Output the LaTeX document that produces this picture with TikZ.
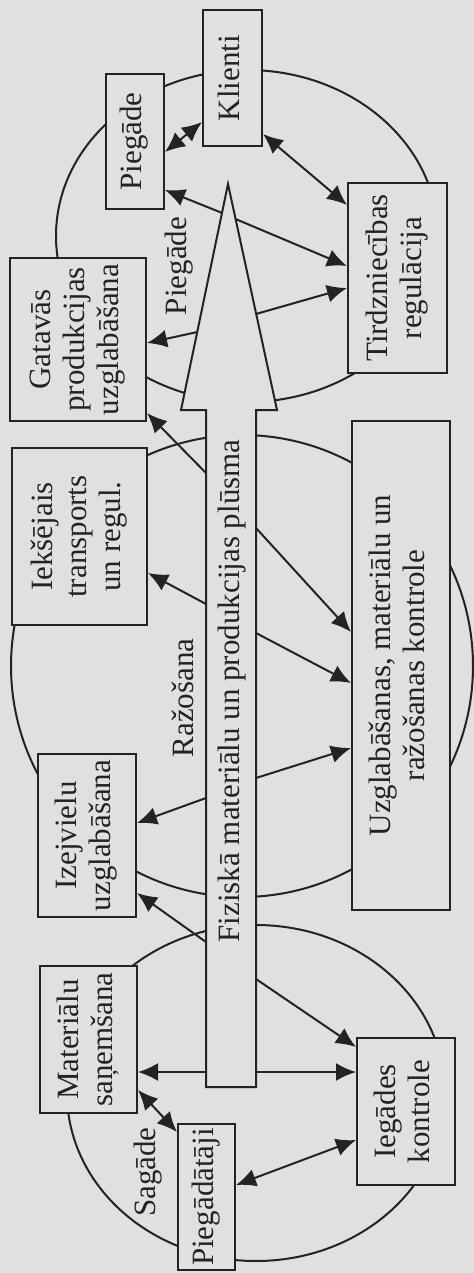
\documentclass[tikz,border=0pt]{standalone}
\usepackage{fontspec}
\setmainfont{Liberation Serif}
\usepackage{graphicx}
\usetikzlibrary{arrows.meta,calc}
\definecolor{paper}{RGB}{224,224,223}
\definecolor{ink}{RGB}{35,35,35}
\newcommand{\vtxt}[1]{\rotatebox{90}{\begin{tabular}{@{}c@{}}#1\end{tabular}}}

\begin{document}
\begin{tikzpicture}[x=0.5pt,y=-0.5pt,line width=1pt,ink]

\tikzset{
	box/.style={draw,fill=paper,inner sep=0pt,font=\fontsize{15.5}{17}\selectfont},
	lbl/.style={rotate=90,inner sep=0pt,font=\fontsize{15.5}{17}\selectfont},
	oneway/.style={-{Latex[length=10pt,width=9pt]}},
	twoway/.style={{Latex[length=10pt,width=9pt]}-{Latex[length=10pt,width=9pt]}},
}
        \fill[paper] (0,0) rectangle (474,1273);
        \useasboundingbox (0,0) rectangle (474,1273);

        %CYCLES
        \draw (247,236) ellipse [x radius=191,y radius=166];
        \draw (242,666) ellipse [x radius=231,y radius=231];
        \draw (256,1093) ellipse [x radius=189,y radius=168];

        %BOXES
        \node[box,minimum width=29.5pt,minimum height=68pt] (klienti) at (232.5,78) {\vtxt{Klienti}};
        \node[box,minimum width=29pt,minimum height=67.5pt] (piegbox) at (135,141.5) {\vtxt{Piegāde}};
        \node[box,minimum width=49.5pt,minimum height=95pt] (tirdz) at (397.5,278) {\vtxt{Tirdzniecības\\regulācija}};
        \node[box,minimum width=68pt,minimum height=81.5pt] (gatav) at (78,339.5) {\vtxt{Gatavās\\produkcijas\\uzglabāšana}};
        \node[box,minimum width=67.5pt,minimum height=88.5pt] (ieks) at (79.5,536.5) {\vtxt{Iekšējais\\transports\\un regul.}};
        \node[box,minimum width=49pt,minimum height=244.5pt] (uzgl) at (401,665.5) {\vtxt{Uzglabāšanas, materiālu un\\ražošanas kontrole}};
        \node[box,minimum width=49pt,minimum height=81.5pt] (izej) at (87,835.5) {\vtxt{Izejvielu\\uzglabāšana}};
        \node[box,minimum width=48.5pt,minimum height=73.5pt] (mater) at (88.5,1039.5) {\vtxt{Materiālu\\saņemšana}};
        \node[box,minimum width=28.5pt,minimum height=73pt] (piegat) at (206.5,1197) {\vtxt{Piegādātāji}};
        \node[box,minimum width=49pt,minimum height=73.5pt] (iegad) at (406,1111.5) {\vtxt{Iegādes\\kontrole}};

        %BIG ARROW
        \coordinate (tip) at (228,184);
        \coordinate (hl) at (181,410);
        \coordinate (hr) at (277,410);
        \coordinate (sl) at (206,410);
        \coordinate (sr) at (256,410);
        \coordinate (bl) at (206,1087);
        \coordinate (br) at (256,1087);
        \draw[fill=paper] (tip) -- (hr) -- (sr) -- (br) -- (bl) -- (sl) -- (hl) -- cycle;
        \node[lbl] (fizlbl) at (232,691) {Fiziskā materiālu un produkcijas plūsma};

        \node[lbl] (pieglbl) at (179,266) {Piegāde};
        \node[lbl] (razlbl) at (183,698) {Ražošana};
        \node[lbl] (saglbl) at (148,1172) {Sagāde};

        %PIEGADE
        \draw[twoway] (klienti.west |- 0,122) -- (piegbox.east |- 0,152);
        \draw[twoway] (klienti.east |- 0,134) -- (tirdz.west |- 0,205);
        \draw[oneway] ($(tip)!0.128!(hl)$) -- (piegbox.east |- 0,190);
        \draw[oneway] ($(tip)!0.155!(hr)$) -- (tirdz.west |- 0,266);
        \draw[oneway] ($(tip)!0.575!(hr)$) -- (tirdz.west |- 0,288);
        \draw[oneway] ($(tip)!0.655!(hl)$) -- (gatav.east |- 0,343);
        %RAZOSANA
        \draw[oneway] (sl |- 0,473) -- (gatav.east |- 0,413);
        \draw[oneway] (sl |- 0,604) -- (ieks.east |- 0,573);
        \draw[oneway] (sr |- 0,528) -- (uzgl.west |- 0,632);
        \draw[oneway] (sr |- 0,633) -- (uzgl.west |- 0,683);
        \draw[oneway] (sr |- 0,778) -- (uzgl.west |- 0,748);
        \draw[oneway] (sl |- 0,798) -- (izej.east |- 0,823);
        \draw[oneway] (sl |- 0,942) -- (izej.east |- 0,893);
        %SAGADE
        \draw[oneway] (sr |- 0,979) -- (iegad.west |- 0,1047);
        \draw[oneway] (bl |- 0,1072) -- (mater.east |- 0,1072);
        \draw[oneway] (br |- 0,1072) -- (iegad.west |- 0,1072);
        \draw[twoway] (mater.east |- 0,1090) -- (piegat.west |- 0,1132);
        \draw[twoway] (piegat.east |- 0,1185) -- (iegad.west |- 0,1140);
    \end{tikzpicture}
\end{document}
